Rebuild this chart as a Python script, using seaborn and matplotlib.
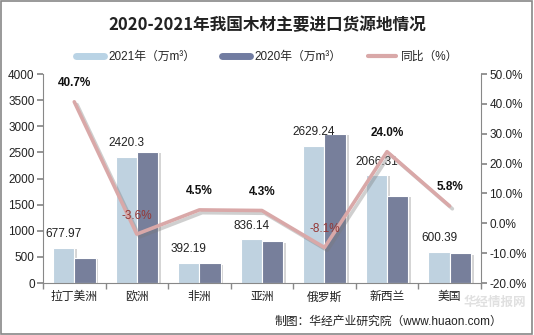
import numpy as np
import pandas as pd
import matplotlib
matplotlib.use("Agg")
import matplotlib.pyplot as plt
import matplotlib.patheffects as pe
from matplotlib.lines import Line2D
from matplotlib.patches import Rectangle
import seaborn as sns

categories = ["拉丁美洲", "欧洲", "非洲", "亚洲", "俄罗斯", "新西兰", "美国"]
v2021 = [677.97, 2420.3, 392.19, 836.14, 2629.24, 2066.31, 600.39]
v2020 = [482, 2511, 375, 802, 2861, 1666, 567]
yoy = [40.7, -3.6, 4.5, 4.3, -8.1, 24.0, 5.8]
left_ticks = [0, 500, 1000, 1500, 2000, 2500, 3000, 3500, 4000]
right_ticks = [-20, -10, 0, 10, 20, 30, 40, 50]

sns.set_theme(style="white")
plt.rcParams['font.family'] = ['Liberation Sans', 'Noto Sans CJK SC', 'DejaVu Sans']

c21, c20, cl = "#B9D3E5", "#717CA1", "#D9A8A8"
df = pd.DataFrame({
    "cat": categories * 2,
    "val": v2021 + v2020,
    "series": ["2021"] * len(categories) + ["2020"] * len(categories),
})

fig = plt.figure(figsize=(5.34, 3.35), dpi=100)
ax = fig.add_axes([0.0805, 0.155, 0.82, 0.624])
sns.barplot(data=df, x="cat", y="val", hue="series", palette=[c21, c20],
            width=0.68, ax=ax, legend=False, edgecolor="white", linewidth=0.8)
shadow = [pe.SimplePatchShadow(offset=(2, -1), shadow_rgbFace="#888888", alpha=0.35), pe.Normal()]
for p in ax.patches:
    p.set_path_effects(shadow)

ax.set_xlim(-0.5, len(categories) - 0.5)
ax.set_ylim(0, 4000)
ax.set_yticks(left_ticks)
ax.set_xlabel("")
ax.set_ylabel("")
ax.set_xticks(range(len(categories)))
ax.set_xticklabels(categories, fontsize=8.5)
ax.set_xticks(np.arange(-0.5, len(categories), 1.0), minor=True)
ax.tick_params(axis="x", which="major", length=0, pad=6, colors="#222222")
ax.tick_params(axis="x", which="minor", length=4, color="#888888", direction="out", bottom=True)
ax.tick_params(axis="y", length=4, color="#888888", direction="out", left=True, labelsize=8.5, labelcolor="#222222", pad=2)
for s in ["top", "right"]:
    ax.spines[s].set_visible(False)
for s in ["left", "bottom"]:
    ax.spines[s].set_color("#888888")
    ax.spines[s].set_linewidth(0.8)

# value labels on 2021 bars
bars21 = ax.patches[:len(categories)]
for b, v in zip(bars21, v2021):
    ax.text(b.get_x() + b.get_width() / 2, v + 140, f"{v:g}" if v != 2420.3 else "2420.3",
            ha="center", va="bottom", fontsize=8.5, color="#222222")

ax2 = ax.twinx()
sns.lineplot(x=np.arange(len(categories)), y=yoy, ax=ax2, color=cl, linewidth=2.6,
             path_effects=[pe.SimpleLineShadow(offset=(2, -2), shadow_color="#777777", alpha=0.35), pe.Normal()])
ax2.set_ylim(-20, 50)
ax2.set_yticks(right_ticks)
ax2.set_yticklabels([f"{t:.1f}%" for t in right_ticks])
ax2.tick_params(axis="y", length=4, color="#888888", direction="out", right=True, labelsize=8.5, labelcolor="#222222", pad=2)
for s in ["top", "left", "bottom"]:
    ax2.spines[s].set_visible(False)
ax2.spines["right"].set_color("#888888")
ax2.spines["right"].set_linewidth(0.8)
ax2.grid(False)
ax.grid(False)

for i, v in enumerate(yoy):
    if v >= 0:
        ax2.text(i, v + 4.2, f"{v:.1f}%", ha="center", va="bottom", fontsize=8.5,
                 fontweight="bold", color="#111111")
    else:
        ax2.text(i, v + 4.2, f"{v:.1f}%", ha="center", va="bottom", fontsize=8.5,
                 color="#953735")

fig.text(0.5, 0.925, "2020-2021年我国木材主要进口货源地情况", ha="center", va="center",
         fontsize=12, fontweight="bold", color="#222222",
         family=['Noto Sans CJK SC', 'DejaVu Sans'])

handles = [Line2D([], [], color=c21, linewidth=5),
           Line2D([], [], color=c20, linewidth=5),
           Line2D([], [], color=cl, linewidth=3)]
labels = ["2021年（万m³）", "2020年（万m³）", "同比（%）"]
fig.legend(handles, labels, loc="center", bbox_to_anchor=(0.5, 0.83), ncol=3, frameon=False,
           fontsize=8.5, handlelength=2.4, handletextpad=0.4, columnspacing=2.2,
           prop={'family': ['Liberation Sans', 'Noto Sans CJK SC', 'DejaVu Sans'], 'size': 8.5})

fig.text(0.94, 0.04, "制图：华经产业研究院（www.huaon.com）", ha="right", va="center",
         fontsize=8.5, color="#222222")
fig.text(0.868, 0.098, "华经情报网", ha="left", va="center", fontsize=9,
         fontweight="bold", color="#cccccc", alpha=0.6,
         family=['Noto Sans CJK SC', 'DejaVu Sans'])

fig.add_artist(Rectangle((0.002, 0.003), 0.995, 0.994, transform=fig.transFigure,
                         fill=False, edgecolor="#888888", linewidth=1.2))

fig.savefig("out.png", dpi=100)
